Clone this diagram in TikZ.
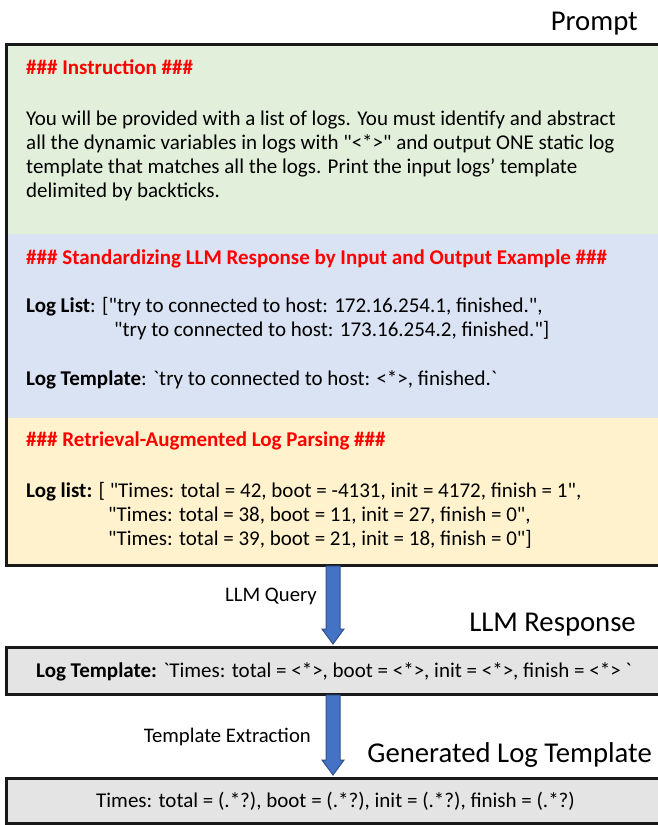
\documentclass[tikz,border=0pt]{standalone}
\usepackage{fontspec}
\newfontfamily\calib{Carlito}
\definecolor{greenbg}{HTML}{E2EFDA}
\definecolor{bluebg}{HTML}{DAE3F3}
\definecolor{yellowbg}{HTML}{FFF2CC}
\definecolor{graybg}{HTML}{E4E4E4}
\definecolor{arrowfill}{HTML}{4472C4}
\definecolor{arrowdraw}{HTML}{2F528F}
\definecolor{hdred}{HTML}{FF0000}
\begin{document}
\begin{tikzpicture}[x=1pt,y=-1pt,
  body/.style={anchor=base west,inner sep=0pt,font=\calib\fontsize{21}{24}\selectfont},
  hd/.style={anchor=base west,inner sep=0pt,text=hdred,font=\calib\fontsize{21}{24}\selectfont\bfseries},
  title/.style={anchor=base east,inner sep=0pt,font=\calib\fontsize{28.7}{34}\selectfont},
  lbl/.style={anchor=base east,inner sep=0pt,font=\calib\fontsize{20.7}{24}\selectfont},
  band/.style={anchor=north west,inner sep=0pt,outer sep=0pt,minimum width=660pt},
  frame/.style={draw=black!90,line width=3pt},
  barrow/.style={fill=arrowfill,draw=arrowdraw,line width=1pt,line join=miter}]
\useasboundingbox (0,0) rectangle (657,825);
% prompt box
\node[band,fill=greenbg,minimum height=190pt] (green) at (6,44) {};
\node[band,fill=bluebg,minimum height=184pt] (blue) at (6,234) {};
\node[band,fill=yellowbg,minimum height=147pt] (yellow) at (6,418) {};
\draw[frame] (green.north west) rectangle (yellow.south east);
\node[title] (tprompt) at (638,30) {Prompt};

\node[hd] (h1) at (26,74) {\#\#\# Instruction \#\#\#};
\node[body] (p1) at (26,125) {You will be provided with a list of logs. You must identify and abstract};
\node[body] (p2) at (26,149) {all the dynamic variables in logs with "<*>" and output ONE static log};
\node[body] (p3) at (26,173) {template that matches all the logs. Print the input logs’ template};
\node[body] (p4) at (26,197) {delimited by backticks.};

\node[hd] (h2) at (26,264) {\#\#\# Standardizing LLM Response by Input and Output Example \#\#\#};
\node[body] (l1) at (26,312) {\textbf{Log List}: ["try to connected to host: 172.16.254.1, finished.",};
\node[body] (l2) at (114,336) {"try to connected to host: 173.16.254.2, finished."]};
\node[body] (l3) at (26,385) {\textbf{Log Template}: `try to connected to host: <*>, finished.`};

\node[hd] (h3) at (26,446) {\#\#\# Retrieval-Augmented Log Parsing \#\#\#};
\node[body] (r1) at (26,497) {\textbf{Log list:} [ "Times: total = 42, boot = -4131, init = 4172, finish = 1",};
\node[body] (r2) at (108,521) {"Times: total = 38, boot = 11, init = 27, finish = 0",};
\node[body] (r3) at (108,545) {"Times: total = 39, boot = 21, init = 18, finish = 0"]};

% response box
\node[band,fill=graybg,minimum height=47pt] (resp) at (6,647) {};
\draw[frame] (resp.north west) rectangle (resp.south east);
\node[body] (rt) at (36,677) {\textbf{Log Template:} `Times: total = <*>, boot = <*>, init = <*>, finish = <*> `};
\node[title] (tresp) at (636,631) {LLM Response};

% generated box
\node[band,fill=graybg,minimum height=45pt] (gen) at (6,778) {};
\draw[frame] (gen.north west) rectangle (gen.south east);
\node[body] (gt) at (96,807) {Times: total = (.*?), boot = (.*?), init = (.*?), finish = (.*?)};
\node[title] (tgen) at (652,762) {Generated Log Template};

% arrows
\draw[barrow] (326,566) -- (340,566) -- (340,629) -- (344,629) -- (333,644) -- (322,629) -- (326,629) -- cycle;
\node[lbl] (q) at (317,601) {LLM Query};
\draw[barrow] (326,695) -- (340,695) -- (340,760) -- (344,760) -- (333,775) -- (322,760) -- (326,760) -- cycle;
\node[lbl] (te) at (311,742) {Template Extraction};
\end{tikzpicture}
\end{document}
